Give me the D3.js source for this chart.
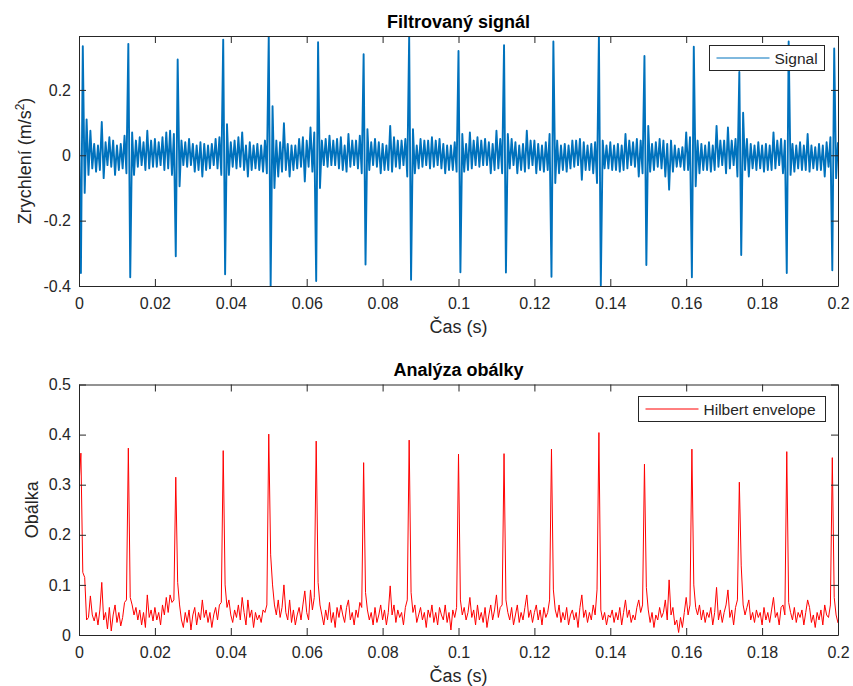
<!DOCTYPE html>
<html>
<head>
<meta charset="utf-8">
<script src="https://cdn.jsdelivr.net/npm/d3@7"></script>
<style>
  body { margin: 0; background: #fff; }
  svg { display: block; font-family: "Liberation Sans", Arial, Helvetica, sans-serif; }
</style>
</head>
<body>
<svg id="chart" width="853" height="686"></svg>
<script>
// sample spacing of both series (s)
var sampleStep = 0.0005

// filtered signal, thousandths of m/s^2
var signalMilli = [
  120,-360,334,-115,110,-60,75,-40,35,-50,30,-45,102,-70,40,-30,55,-35,45,-60,
  30,-45,35,-40,60,-55,341,-373,70,-60,45,-35,55,-30,40,-45,75,-40,45,-35,
  50,-35,40,-30,55,-45,70,-40,75,-60,65,-309,293,-95,45,-30,40,-35,50,-30,
  35,-50,30,-45,40,-65,35,-45,30,-40,35,-30,50,-40,55,-60,354,-364,95,-60,
  40,-35,45,-40,55,-35,70,-45,30,-65,40,-45,30,-40,35,-45,30,-50,45,-55,
  365,-400,150,-100,45,-65,40,-50,98,-45,35,-65,30,-45,30,-40,50,-35,55,-80,
  45,-35,85,-50,70,-385,346,-100,45,-30,50,-35,60,-30,45,-30,50,-40,55,-45,
  30,-50,65,-35,45,-30,45,-40,60,-55,309,-334,80,-45,40,-30,50,-35,40,-55,
  35,-45,30,-45,90,-50,55,-35,45,-40,45,-30,50,-65,365,-381,80,-55,30,-40,
  50,-35,45,-30,45,-40,55,-35,45,-30,50,-40,35,-55,30,-45,30,-45,40,-50,
  319,-358,65,-50,35,-45,70,-40,45,-30,55,-35,45,-30,50,-30,40,-55,35,-45,
  75,-40,50,-55,337,-359,65,-40,50,-30,40,-55,30,-45,35,-50,75,-40,45,-30,
  45,-55,35,-45,30,-50,40,-45,65,-372,348,-85,45,-55,30,-45,35,-50,30,-40,
  45,-35,45,-30,50,-75,40,-45,30,-45,35,-55,40,-85,365,-398,45,-40,30,-40,
  40,-45,30,-45,35,-50,30,-45,65,-40,45,-30,40,-35,50,-65,45,-55,304,-336,
  90,-50,35,-45,40,-35,50,-40,45,-65,35,-105,45,-50,30,-35,20,-35,25,-45,
  70,-45,55,-373,332,-95,45,-55,35,-45,30,-45,40,-50,30,-45,90,-35,45,-30,
  45,-55,85,-40,45,-30,50,-65,255,-305,130,-45,50,-65,35,-40,30,-45,40,-40,
  30,-50,35,-45,30,-45,70,-40,45,-30,50,-55,45,-360,348,-60,35,-50,30,-40,
  40,-45,30,-45,65,-50,30,-40,25,-45,35,-45,30,-65,40,-35,55,-352,327,-70,
  40
]

// hilbert envelope, thousandths
var envelopeMilli = [
  300,363,125,115,30,35,78,40,28,45,20,50,105,30,45,12,55,8,40,60,
  25,45,18,35,65,70,373,75,60,40,55,30,50,20,45,15,80,35,50,28,
  55,30,45,20,60,40,75,45,80,65,70,315,105,60,30,15,45,25,50,10,
  40,55,20,45,30,70,35,50,25,45,15,40,55,30,60,65,368,100,55,70,
  40,25,50,35,60,30,75,45,20,70,35,50,15,45,30,40,25,50,45,60,
  401,160,100,60,40,70,35,55,100,45,30,70,25,50,20,40,55,30,60,88,
  45,30,90,50,75,387,105,60,40,20,50,30,65,25,45,15,55,35,60,40,
  25,55,70,30,45,20,50,35,65,55,344,85,50,30,45,20,55,25,40,60,
  30,50,20,45,98,40,60,25,50,35,45,20,55,70,389,85,45,60,25,40,
  55,30,45,15,50,35,60,25,45,20,55,40,30,60,25,45,10,50,35,55,
  361,70,40,55,30,45,75,35,50,20,60,30,45,25,55,15,40,60,30,50,
  80,35,55,60,362,70,45,30,55,20,40,60,25,45,30,55,80,35,50,25,
  45,60,30,50,20,55,35,45,70,371,90,50,35,60,25,45,30,55,20,40,
  50,30,45,15,55,80,35,50,25,45,30,60,40,90,404,50,30,45,20,40,
  35,50,25,45,30,55,20,45,70,35,50,25,40,30,55,70,45,60,341,95,
  50,25,45,15,40,30,55,35,45,70,30,110,40,55,20,30,5,35,15,45,
  75,40,60,371,100,55,40,60,30,50,25,45,35,55,20,45,95,30,50,25,
  45,60,90,35,50,20,55,70,305,138,60,40,55,70,30,45,25,50,35,45,
  20,55,30,45,25,50,75,35,45,20,55,60,40,366,65,45,30,55,25,45,
  35,50,20,45,70,55,25,40,15,45,30,50,20,60,40,35,60,354,75,40,
  24
]

var timeTicks = [0, 0.02, 0.04, 0.06, 0.08, 0.1, 0.12, 0.14, 0.16, 0.18, 0.2]
var signalTicks = [-0.4, -0.2, 0, 0.2]
var envelopeTicks = [0, 0.1, 0.2, 0.3, 0.4, 0.5]

var signalData = signalMilli.map((v, i) => ({ t: i * sampleStep, v: v / 1000 }))
var envelopeData = envelopeMilli.map((v, i) => ({ t: i * sampleStep, v: v / 1000 }))

var svg = d3.select('#chart')
svg.append('rect').attr('width', 853).attr('height', 686).attr('fill', '#fff')

var left = 79, right = 838
var axisColor = '#262626'
var fmt = d => String(+d.toFixed(2))

function drawPanel(opts) {
    var x = d3.scaleLinear().domain([0, 0.2]).range([left, right])
    var y = d3.scaleLinear().domain(opts.yDomain).range([opts.bottom, opts.top])
    var g = svg.append('g')

    g.append('clipPath').attr('id', opts.id + '-clip')
      .append('rect')
        .attr('x', left).attr('y', opts.top)
        .attr('width', right - left).attr('height', opts.bottom - opts.top)

    var line = d3.line().x(d => x(d.t)).y(d => y(d.v))
    g.append('path')
      .datum(opts.data)
      .attr('clip-path', 'url(#' + opts.id + '-clip)')
      .attr('fill', 'none')
      .attr('stroke', opts.color)
      .attr('stroke-width', opts.width)
      .attr('stroke-linejoin', 'round')
      .attr('d', line)

    // ticks on all four sides, pointing inward
    var bottomAxis = g.append('g')
      .attr('transform', 'translate(0,' + opts.bottom + ')')
      .call(d3.axisBottom(x).tickValues(timeTicks).tickFormat(fmt).tickSizeInner(-7).tickSizeOuter(0).tickPadding(12))
    g.append('g')
      .attr('transform', 'translate(0,' + opts.top + ')')
      .call(d3.axisTop(x).tickValues(timeTicks).tickFormat('').tickSizeInner(-7).tickSizeOuter(0))
    g.append('g')
      .attr('transform', 'translate(' + left + ',0)')
      .call(d3.axisLeft(y).tickValues(opts.ticks).tickFormat(fmt).tickSizeInner(-7).tickSizeOuter(0).tickPadding(8))
    g.append('g')
      .attr('transform', 'translate(' + right + ',0)')
      .call(d3.axisRight(y).tickValues(opts.ticks).tickFormat('').tickSizeInner(-7).tickSizeOuter(0))

    g.selectAll('.domain, .tick line').attr('stroke', axisColor).attr('stroke-width', 1)
    g.selectAll('.tick text')
      .attr('fill', axisColor)
      .style('font-size', '16px')
      .style('font-family', '"Liberation Sans", Arial, sans-serif')
    bottomAxis.selectAll('.tick text').attr('dy', '0.71em')

    // title
    g.append('text')
      .attr('x', (left + right) / 2).attr('y', opts.top - 8.5)
      .attr('text-anchor', 'middle')
      .style('font-size', '18px').style('font-weight', 'bold')
      .attr('fill', '#000')
      .text(opts.title)

    // x label
    g.append('text')
      .attr('x', (left + right) / 2).attr('y', opts.bottom + 47)
      .attr('text-anchor', 'middle')
      .style('font-size', '18px')
      .attr('fill', axisColor)
      .text('Čas (s)')

    // y label
    var yl = g.append('text')
      .attr('transform', 'translate(' + opts.ylabelX + ',' + (opts.top + opts.bottom) / 2 + ') rotate(-90)')
      .attr('text-anchor', 'middle')
      .style('font-size', '18px')
      .attr('fill', axisColor)
    opts.ylabel(yl)

    // legend
    var lg = g.append('g').attr('transform', 'translate(' + opts.legend[0] + ',' + opts.legend[1] + ')')
    lg.append('rect')
      .attr('width', opts.legend[2]).attr('height', 25)
      .attr('fill', '#fff').attr('stroke', axisColor).attr('stroke-width', 1)
    lg.append('line')
      .attr('x1', 7).attr('x2', 60).attr('y1', 12.5).attr('y2', 12.5)
      .attr('stroke', opts.color).attr('stroke-width', 1)
    lg.append('text')
      .attr('x', 65).attr('y', 18)
      .style('font-size', '15.5px')
      .attr('fill', axisColor)
      .text(opts.name)
}

drawPanel({
    id: 'sig',
    data: signalData,
    yDomain: d3.extent(signalData, d => d.v),
    ticks: signalTicks,
    top: 36, bottom: 286,
    color: '#0072BD', width: 1.9,
    title: 'Filtrovaný signál',
    ylabelX: 31,
    ylabel: t => {
        t.append('tspan').text('Zrychlení (m/s')
        t.append('tspan').attr('dy', -7).style('font-size', '12px').text('2')
        t.append('tspan').attr('dy', 7).text(')')
    },
    legend: [709.5, 45.5, 115],
    name: 'Signal'
})

drawPanel({
    id: 'env',
    data: envelopeData,
    yDomain: [0, 0.5],
    ticks: envelopeTicks,
    top: 384.5, bottom: 635,
    color: '#ff0000', width: 1,
    title: 'Analýza obálky',
    ylabelX: 38,
    ylabel: t => t.text('Obálka'),
    legend: [638.5, 396.5, 187],
    name: 'Hilbert envelope'
})
</script>
</body>
</html>
